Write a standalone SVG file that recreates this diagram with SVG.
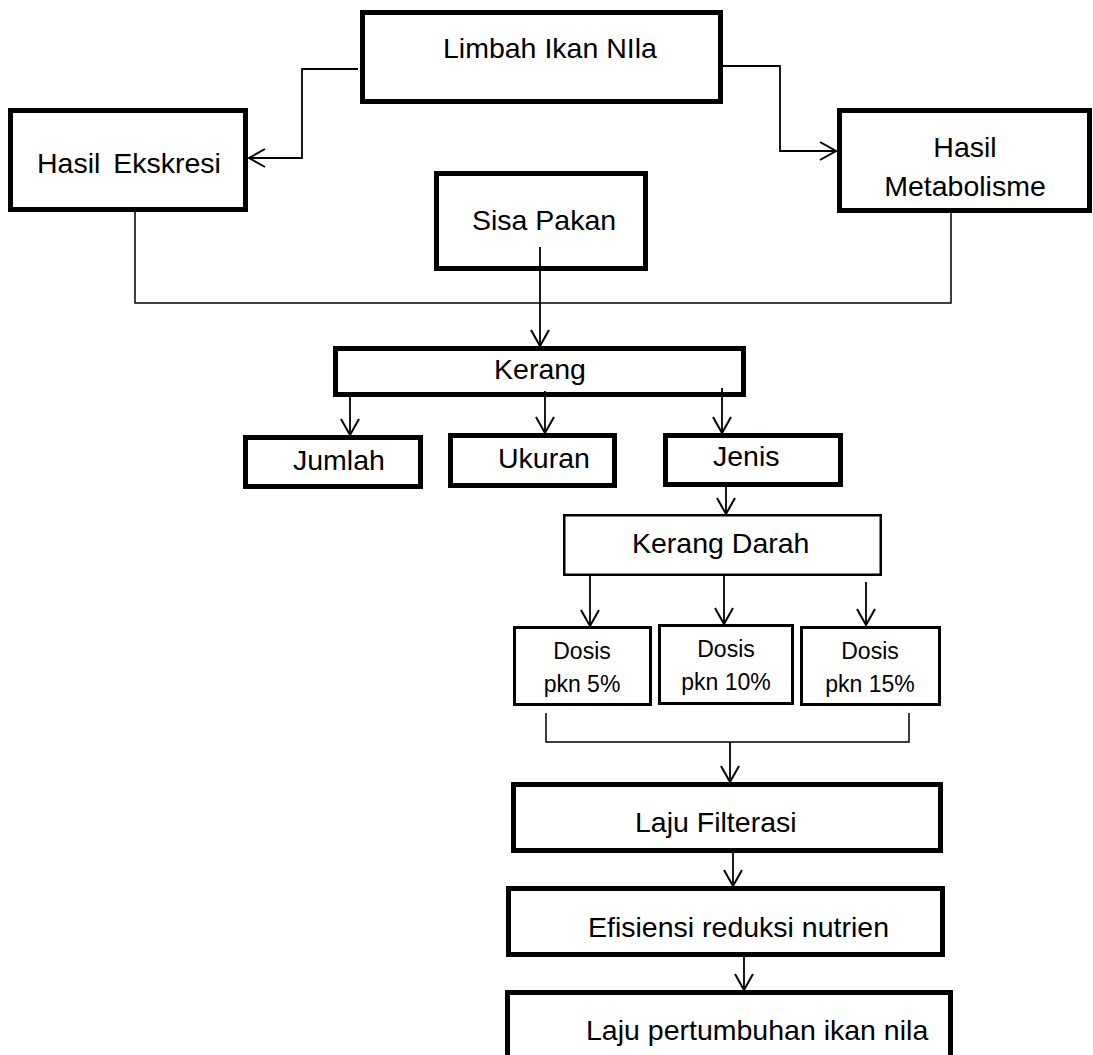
<svg xmlns="http://www.w3.org/2000/svg" width="1093" height="1055" viewBox="0 0 1093 1055">
<style>
.thick{fill:#fff;stroke:#000;stroke-width:5}
.thin{fill:#fff;stroke:#000;stroke-width:2.5}
.dose{fill:#fff;stroke:#000;stroke-width:3}
text{font-family:"Liberation Sans",Arial,sans-serif;font-size:28.5px;fill:#000}
.sm{font-size:23px}
.mid{text-anchor:middle}
.con{fill:none;stroke:#000;stroke-width:1.8}
.br{fill:none;stroke:#000;stroke-width:1.5}
</style>
<defs>
<marker id="arr" markerUnits="userSpaceOnUse" markerWidth="24" markerHeight="24" viewBox="-20 -12 24 24" refX="0" refY="0" orient="auto">
<path d="M-16,-9 L0,0 L-16,9" fill="none" stroke="#000" stroke-width="2"/>
</marker>
</defs>
<rect width="1093" height="1055" fill="#fff"/>
<g id="limbah"><rect class="thick" x="362.5" y="12.5" width="358" height="89"/><text x="443" y="58">Limbah Ikan NIla</text></g>
<g id="ekskresi"><rect class="thick" x="10.5" y="110.5" width="235" height="99"/><text x="37" y="173" word-spacing="5">Hasil Ekskresi</text></g>
<g id="metabolisme"><rect class="thick" x="839.5" y="110.5" width="250" height="100"/><text class="mid" x="965" y="157">Hasil</text><text class="mid" x="965" y="196">Metabolisme</text></g>
<g id="sisa"><rect class="thick" x="436.5" y="173.5" width="209" height="95"/><text class="mid" x="544" y="230">Sisa Pakan</text></g>
<g id="kerang"><rect class="thick" x="335.5" y="348.5" width="408" height="46"/><text class="mid" x="540" y="379">Kerang</text></g>
<g id="jumlah"><rect class="thick" x="245.5" y="437.5" width="175" height="49"/><text x="293" y="470">Jumlah</text></g>
<g id="ukuran"><rect class="thick" x="450.5" y="435.5" width="164" height="50"/><text x="498" y="468">Ukuran</text></g>
<g id="jenis"><rect class="thick" x="665.5" y="435.5" width="175" height="49"/><text x="713" y="466">Jenis</text></g>
<g id="kerangdarah"><rect class="thin" x="564.25" y="515.25" width="316.5" height="59.5"/><text x="632" y="553">Kerang Darah</text></g>
<g id="dosis5"><rect class="dose" x="514.5" y="627.5" width="136" height="77"/><text class="sm mid" x="582" y="659">Dosis</text><text class="sm mid" x="582" y="692">pkn 5%</text></g>
<g id="dosis10"><rect class="dose" x="659.5" y="625.5" width="133" height="78"/><text class="sm mid" x="726" y="657">Dosis</text><text class="sm mid" x="726" y="690">pkn 10%</text></g>
<g id="dosis15"><rect class="dose" x="801.5" y="627.5" width="138" height="77"/><text class="sm mid" x="870" y="659">Dosis</text><text class="sm mid" x="870" y="692">pkn 15%</text></g>
<g id="filterasi"><rect class="thick" x="513.5" y="784.5" width="427" height="66"/><text x="635" y="832">Laju Filterasi</text></g>
<g id="efisiensi"><rect class="thick" x="508.5" y="888.5" width="434" height="66"/><text x="588" y="937">Efisiensi reduksi nutrien</text></g>
<g id="pertumbuhan"><rect class="thick" x="507.5" y="992.5" width="443" height="100"/><text x="586" y="1040">Laju pertumbuhan ikan nila</text></g>
<g id="connectors">
<path class="con" d="M358,69 H302 V158 H249" marker-end="url(#arr)"/>
<path class="con" d="M723,66 H780 V151 H836" marker-end="url(#arr)"/>
<path class="br" d="M135,212 V303 H951 V213"/>
<path class="con" d="M540,247 V346" marker-end="url(#arr)"/>
<path class="con" d="M350,397 V435" marker-end="url(#arr)"/>
<path class="con" d="M545,391 V433" marker-end="url(#arr)"/>
<path class="con" d="M722,388 V433" marker-end="url(#arr)"/>
<path class="con" d="M726,483 V514" marker-end="url(#arr)"/>
<path class="con" d="M590,576 V626" marker-end="url(#arr)"/>
<path class="con" d="M724,576 V624" marker-end="url(#arr)"/>
<path class="con" d="M866,582 V625" marker-end="url(#arr)"/>
<path class="br" d="M546,713 V742 H909 V713"/>
<path class="con" d="M730,742 V782" marker-end="url(#arr)"/>
<path class="con" d="M733,853 V886" marker-end="url(#arr)"/>
<path class="con" d="M744,957 V990" marker-end="url(#arr)"/>
</g>
</svg>
